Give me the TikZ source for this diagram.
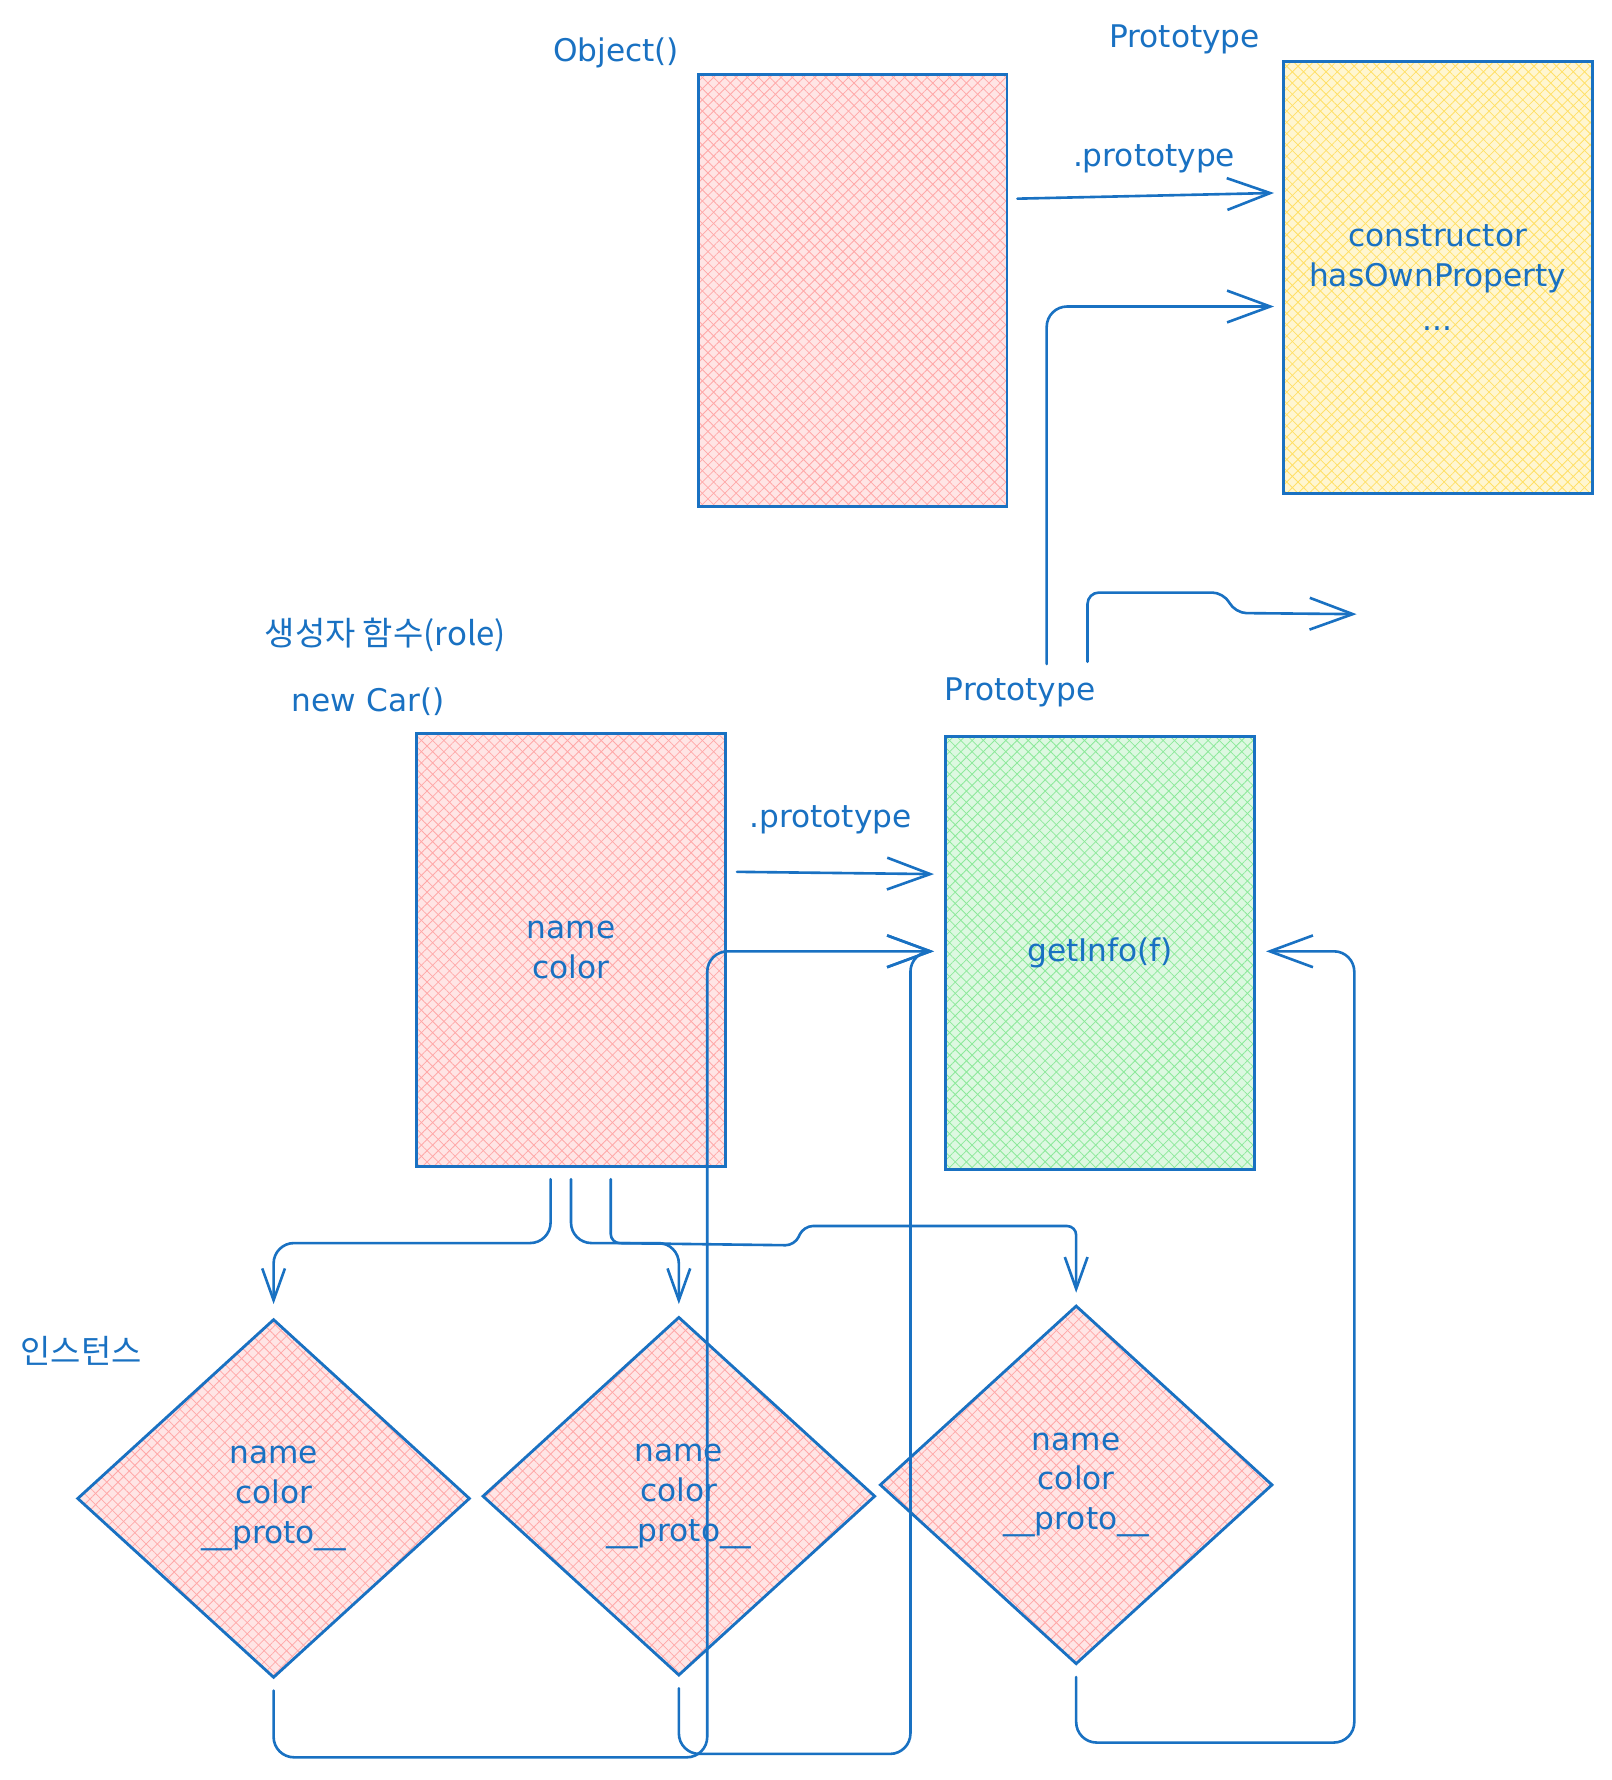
\documentclass[tikz,border=0pt]{standalone}
\usepackage{fontspec}
\setmainfont{DejaVu Sans}
\newfontfamily\krfont{Noto Sans CJK KR}
\usetikzlibrary{arrows.meta,shapes.geometric,patterns.meta}
\definecolor{stroke}{HTML}{1971C2}
\definecolor{pinkf}{HTML}{FFA8A8}
\definecolor{yellowf}{HTML}{FFE066}
\definecolor{greenf}{HTML}{8CE99A}
\newcommand\dfont{\fontsize{27.5}{35}\selectfont}
\newcommand\kfont{\krfont\fontsize{29}{35}\selectfont}
\tikzset{
  hatched/.style={
    preaction={fill=#1!30!white},
    preaction={pattern={Lines[angle=45,distance=7pt,line width=0.7pt]},pattern color=#1},
    preaction={pattern={Lines[angle=-45,distance=7pt,line width=0.7pt]},pattern color=#1}},
  box/.style={draw=stroke,line width=2.5pt,minimum width=272pt,minimum height=381pt,
    inner sep=0pt,align=center,text=stroke,font=\dfont},
  dia/.style={shape=diamond,draw=stroke,line width=2.5pt,minimum width=346pt,minimum height=316pt,
    inner sep=0pt,align=center,text=stroke,font=\dfont},
  lbl/.style={text=stroke,font=\dfont,anchor=west,inner sep=0pt},
  conn/.style={draw=stroke,line width=2.3pt,rounded corners=18pt,line cap=round,
    -{Straight Barb[length=38pt,width=28pt]}},
  connsmall/.style={draw=stroke,line width=2.3pt,rounded corners=18pt,line cap=round,
    -{Straight Barb[length=28pt,width=20pt]}}
}
\begin{document}
\begin{tikzpicture}[x=1pt,y=-1pt]
\useasboundingbox (0,0) rectangle (1420,1568);
% boxes
\node[box,hatched=pinkf] (obj) at (751,256) {};
\node[box,hatched=yellowf] (proto1) at (1266.5,244.5) {constructor\\hasOwnProperty\\[4pt]...};
\node[box,hatched=pinkf] (car) at (503,837) {name\\color};
\node[box,hatched=greenf] (proto2) at (969,839.5) {getInfo(f)};
% diamonds
\node[dia,hatched=pinkf] (d1) at (241,1320) {name\\color\\\_\_proto\_\_};
\node[dia,hatched=pinkf] (d2) at (598,1318) {name\\color\\\_\_proto\_\_};
\node[dia,hatched=pinkf] (d3) at (948,1308) {name\\color\\\_\_proto\_\_};
% labels
\node[lbl] (tobj) at (487,47) {Object()};
\node[lbl] (tp1) at (977,35) {Prototype};
\node[lbl] (tpr1) at (945,140) {.prototype};
\node[lbl,font=\kfont] (tctor) at (233,559) {생성자 함수(role)};
\node[lbl] (tnew) at (257,618) {new Car()};
\node[lbl] (tp2) at (832,610) {Prototype};
\node[lbl] (tpr2) at (660,722) {.prototype};
\node[lbl,font=\kfont] (tinst) at (18,1190) {인스턴스};
% coordinates
\coordinate (b0) at (922,585);
\coordinate (c0) at (958,583);
\coordinate (c1) at (1195,541);
\coordinate (lvl) at (0,1095);
\coordinate (h0) at ([xshift=-18pt,yshift=-10pt]car.south);
\coordinate (i0) at ([yshift=-10pt]car.south);
\coordinate (j0) at ([xshift=35pt,yshift=-10pt]car.south);
% connectors top
\draw[conn] ([xshift=8pt,yshift=81pt]obj.east) -- ([xshift=-7pt,yshift=74.5pt]proto1.west);
\draw[conn] (b0) |- ([xshift=-7pt,yshift=-25.5pt]proto1.west);
\draw[conn,rounded corners=10pt] (c0) |- (1078,522) -- (1088,540) -- (c1);
\draw[conn] ([xshift=9pt,yshift=69pt]car.east) -- ([xshift=-9pt,yshift=69.5pt]proto2.west);
% connectors from car to instances
\draw[connsmall] (h0) -- (h0 |- lvl) -| ([yshift=12pt]d1.north);
\draw[connsmall] (i0) -- (i0 |- lvl) -| ([yshift=10pt]d2.north);
\draw[connsmall,rounded corners=8pt] (j0) -- (j0 |- lvl) -- (700,1097) -- (708,1080) -| ([yshift=10pt]d3.north);
% connectors from instances to prototype
\draw[conn] ([yshift=-10pt]d1.south) |- (623,1548) |- ([xshift=-9pt,yshift=1.5pt]proto2.west);
\draw[conn] ([yshift=-10pt]d2.south) |- (802,1545) |- ([xshift=-9pt,yshift=1.5pt]proto2.west);
\draw[conn] ([yshift=-10pt]d3.south) |- (1193,1535) |- ([xshift=9pt,yshift=1.5pt]proto2.east);
\end{tikzpicture}
\end{document}
